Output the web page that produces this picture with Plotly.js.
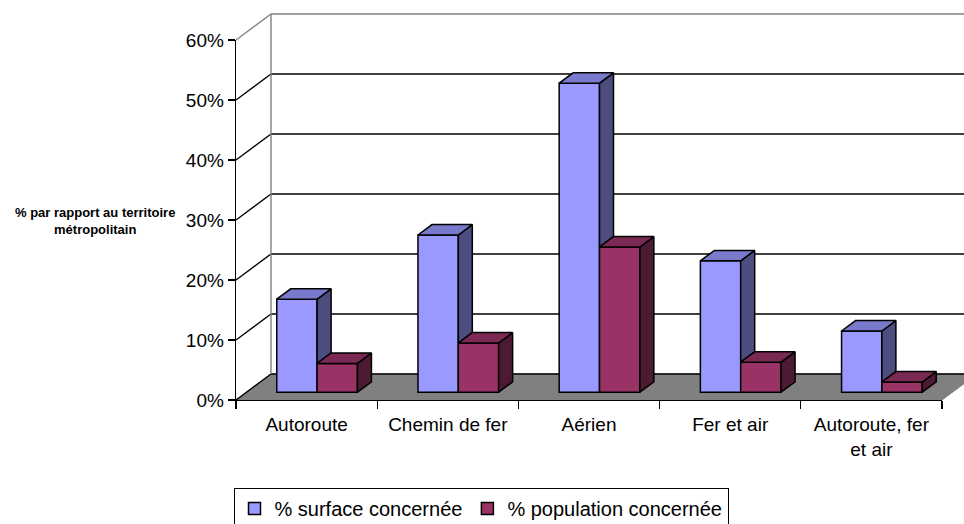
<!DOCTYPE html>
<html>
<head>
<meta charset="utf-8">
<script src="https://cdn.plot.ly/plotly-3.0.1.min.js"></script>
<style>html,body{margin:0;padding:0;background:#fff;}#chart{width:964px;height:524px;}</style>
</head>
<body>
<div id="chart"></div>
<script>
// ---- data ----
const categories = ['Autoroute', 'Chemin de fer', 'Aérien', 'Fer et air', 'Autoroute, fer<br>et air'];
const surfaceValues = [15.5, 26.2, 51.5, 21.9, 10.2];
const populationValues = [4.8, 8.2, 24.2, 5.0, 1.7];
const seriesNames = ['% surface concernée', '% population concernée'];
const yTickValues = [0, 10, 20, 30, 40, 50, 60];
const yTickLabels = ['0%', '10%', '20%', '30%', '40%', '50%', '60%'];
const yAxisTitle = '% par rapport au territoire<br>métropolitain';

// ---- geometry of the oblique 3D look ----
const W = 964, H = 524;
const mL = 236, mR = 0, mT = 10, mB = 124;
const pxPerCat = 141.2, pxPerPct = 6;
const plotW = W - mL - mR, plotH = H - mT - mB;
const depthDX = 35 / pxPerCat;     // depth offset in x units
const depthDY = 26 / pxPerPct;     // depth offset in y units
const f1 = 0.3, f2 = 0.7;          // bar depth placement
const gapWidth = 1.5;
const barW = 1 / (2 + gapWidth);
const nCat = categories.length;
const yMax = yTickValues[yTickValues.length - 1];

const colors = {
  front: ['#9999FF', '#993366'],
  side: ['#4D4D80', '#4D1A33'],
  top: ['#7A7ACC', '#7A2952']
};

const series = [surfaceValues, populationValues];
const traces = [];

function xLeft(i, s) { return i + gapWidth * barW / 2 + s * barW + f1 * depthDX; }
const base0 = f1 * depthDY;
const ddx = (f2 - f1) * depthDX, ddy = (f2 - f1) * depthDY;

// front faces as bars
series.forEach((vals, s) => {
  traces.push({
    type: 'bar', name: seriesNames[s],
    x: vals.map((v, i) => xLeft(i, s) + barW / 2),
    y: vals, base: vals.map(() => base0), width: vals.map(() => barW),
    marker: { color: colors.front[s], line: { color: '#000', width: 1.5 } },
    hoverinfo: 'skip', xaxis: 'x', yaxis: 'y'
  });
});

// top & side faces
series.forEach((vals, s) => {
  const sx = [], sy = [], tx = [], ty = [];
  vals.forEach((v, i) => {
    const xl = xLeft(i, s), xr = xl + barW, yt = base0 + v;
    let lo = 0;
    if (s === 0) lo = Math.min(populationValues[i], v);
    const yb = base0 + lo;
    sx.push(xr, xr + ddx, xr + ddx, xr, xr, null);
    sy.push(yb, yb + ddy, yt + ddy, yt, yb, null);
    tx.push(xl, xr, xr + ddx, xl + ddx, xl, null);
    ty.push(yt, yt, yt + ddy, yt + ddy, yt, null);
  });
  traces.push({ type: 'scatter', mode: 'lines', x: sx, y: sy, fill: 'toself', fillcolor: colors.side[s],
    line: { color: '#000', width: 1.5 }, showlegend: false, hoverinfo: 'skip', xaxis: 'x', yaxis: 'y' });
  traces.push({ type: 'scatter', mode: 'lines', x: tx, y: ty, fill: 'toself', fillcolor: colors.top[s],
    line: { color: '#000', width: 1.5 }, showlegend: false, hoverinfo: 'skip', xaxis: 'x', yaxis: 'y' });
});

// invisible trace to carry the visible category axis
traces.push({ type: 'scatter', mode: 'none', x: categories, y: surfaceValues, xaxis: 'x2', yaxis: 'y2',
  showlegend: false, hoverinfo: 'skip' });

// walls & floor as shapes below traces
const shapes = [];
shapes.push({ type: 'path', xref: 'x', yref: 'y', layer: 'below',
  path: `M0,0 L${depthDX},${depthDY} L${nCat + depthDX},${depthDY} L${nCat},0 Z`,
  fillcolor: '#808080', line: { color: '#808080', width: 1 } });
yTickValues.forEach(v => {
  const col = v === yMax ? '#808080' : '#000';
  shapes.push({ type: 'line', xref: 'x', yref: 'y', layer: 'below', x0: 0, y0: v, x1: depthDX, y1: v + depthDY,
    line: { color: col, width: 1.4 } });
  shapes.push({ type: 'line', xref: 'x', yref: 'y', layer: 'below', x0: depthDX, y0: v + depthDY, x1: nCat + depthDX + 1, y1: v + depthDY,
    line: { color: col, width: 1.4 } });
});
shapes.push({ type: 'line', xref: 'x', yref: 'y', layer: 'below', x0: depthDX, y0: depthDY, x1: depthDX, y1: yMax + depthDY,
  line: { color: '#808080', width: 1.4 } });

const font = 'Liberation Sans, Arial, sans-serif';
const layout = {
  width: W, height: H,
  margin: { l: mL, r: mR, t: mT, b: mB, pad: 0, autoexpand: false },
  paper_bgcolor: '#fff', plot_bgcolor: 'rgba(0,0,0,0)',
  barmode: 'overlay',
  font: { family: font, color: '#000', size: 19 },
  xaxis: { range: [0, plotW / pxPerCat], visible: false, fixedrange: true },
  yaxis: { range: [0, plotH / pxPerPct], visible: false, fixedrange: true },
  xaxis2: { domain: [0, nCat * pxPerCat / plotW], anchor: 'y2', type: 'category',
    categoryorder: 'array', categoryarray: categories, range: [-0.5, nCat - 0.5],
    tickson: 'boundaries', ticks: 'outside', ticklen: 8, tickwidth: 1.3, tickcolor: '#000',
    ticklabelstandoff: 7,
    showline: true, linecolor: '#000', linewidth: 1.3, showgrid: false, zeroline: false,
    tickfont: { family: font, size: 19, color: '#000' }, fixedrange: true, automargin: false },
  yaxis2: { domain: [0, yMax * pxPerPct / plotH], anchor: 'x2', range: [0, yMax],
    tickmode: 'array', tickvals: yTickValues, ticktext: yTickLabels,
    ticks: 'outside', ticklen: 7, tickwidth: 1.3, tickcolor: '#000',
    showline: true, linecolor: '#000', linewidth: 1.3, showgrid: false, zeroline: false,
    tickfont: { family: font, size: 19, color: '#000' }, fixedrange: true, automargin: false },
  shapes: shapes,
  annotations: [{ text: yAxisTitle, xref: 'paper', yref: 'paper', x: (95 - mL) / plotW, y: (mT + plotH - 221) / plotH,
    xanchor: 'center', yanchor: 'middle', showarrow: false, align: 'center',
    font: { family: font, size: 13, color: '#000', weight: 'bold' } }],
  showlegend: true,
  legend: { orientation: 'h', x: (481 - mL) / plotW, xanchor: 'center', y: (mT + plotH - 488) / plotH, yanchor: 'top',
    bordercolor: '#000', borderwidth: 1, bgcolor: '#fff', font: { family: font, size: 20, color: '#000' },
    traceorder: 'normal', itemwidth: 30 }
};

Plotly.newPlot('chart', traces, layout, { displayModeBar: false, staticPlot: true });
</script>
</body>
</html>
